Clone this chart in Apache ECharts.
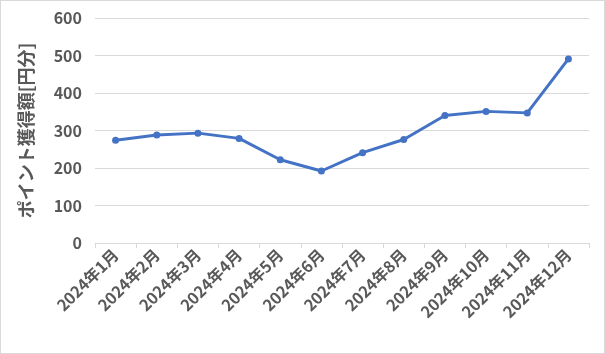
<!DOCTYPE html>
<html>
<head>
<meta charset="utf-8">
<script src="https://cdn.jsdelivr.net/npm/echarts@6/dist/echarts.min.js"></script>
<style>
  html, body { margin: 0; padding: 0; background: #fff; }
  #main { width: 603px; height: 352px; border: 1px solid #d9d9d9; }
</style>
</head>
<body>
<div id="main"></div>
<script>
var months = ['2024年1月', '2024年2月', '2024年3月', '2024年4月', '2024年5月', '2024年6月',
              '2024年7月', '2024年8月', '2024年9月', '2024年10月', '2024年11月', '2024年12月'];
var points = [274, 288, 293, 279, 222, 192, 241, 276, 340, 351, 347, 491];

var font = '"Noto Sans CJK JP", "Noto Sans", sans-serif';

var myChart = echarts.init(document.getElementById('main'));
myChart.setOption({
    animation: false,
    textStyle: { fontFamily: font },
    grid: { left: 94, right: 15, top: 17, bottom: 110 },
    xAxis: {
        type: 'category',
        data: months,
        boundaryGap: true,
        axisLine: { lineStyle: { color: '#d9d9d9', width: 1 } },
        axisTick: { show: true, length: 5, lineStyle: { color: '#d9d9d9' } },
        axisLabel: {
            rotate: 45,
            interval: 0,
            color: '#595959',
            fontWeight: 'bold',
            fontSize: 16,
            fontFamily: font,
            margin: 9
        }
    },
    yAxis: {
        type: 'value',
        min: 0,
        max: 600,
        interval: 100,
        name: 'ポイント獲得額[円分]',
        nameLocation: 'middle',
        nameRotate: 90,
        nameGap: 60,
        nameTextStyle: { color: '#595959', fontWeight: 'bold', fontSize: 18, fontFamily: font },
        axisLine: { show: false },
        axisTick: { show: false },
        axisLabel: { color: '#595959', fontWeight: 'bold', fontSize: 16, fontFamily: font, margin: 13 },
        splitLine: { lineStyle: { color: '#d9d9d9', width: 1 } }
    },
    series: [{
        type: 'line',
        data: points,
        symbol: 'circle',
        symbolSize: 7,
        lineStyle: { color: '#4472c4', width: 3 },
        itemStyle: { color: '#4472c4' }
    }]
});
</script>
</body>
</html>
